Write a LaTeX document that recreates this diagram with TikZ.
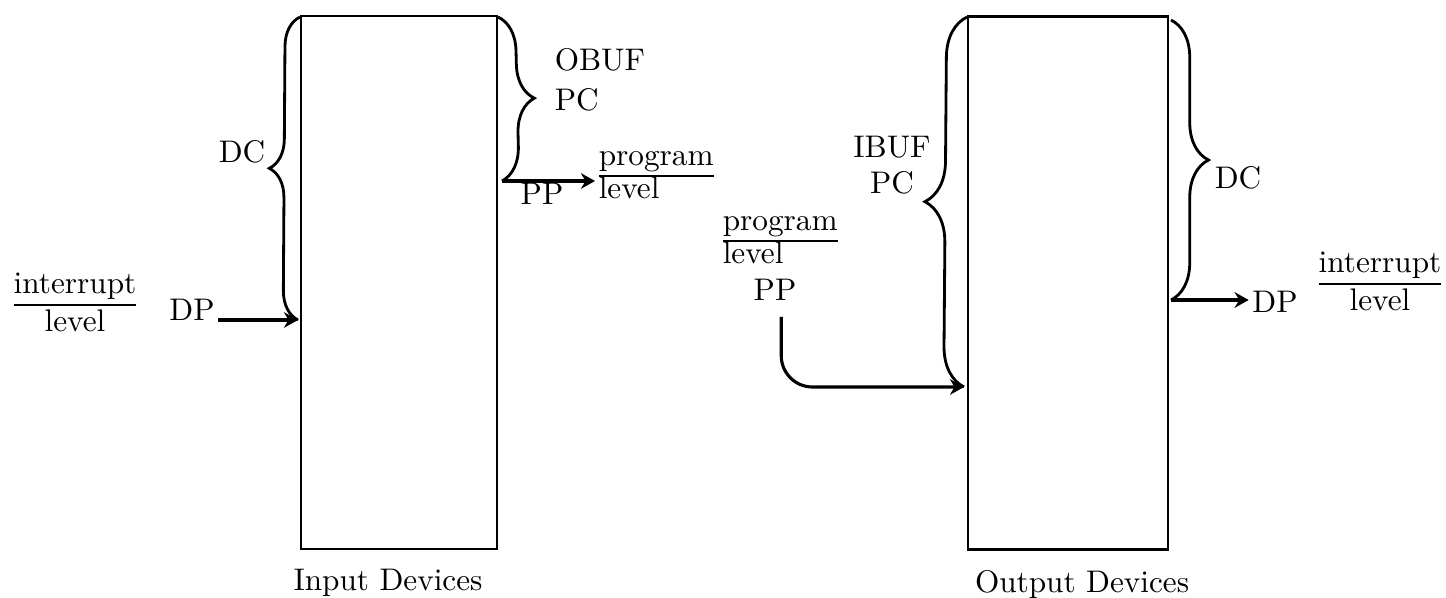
\documentclass[tikz,border=0pt]{standalone}
\usepackage{amsmath,amssymb}
\usepackage{xcolor}
\usepackage{tikz}
\usetikzlibrary{arrows.meta,positioning,decorations.pathreplacing}

\begin{document}
\begin{tikzpicture}[
  x=0.32pt, y=-0.32pt,
  device/.style={draw, line width=0.75pt, minimum width=62.7pt,
    minimum height=170.6pt, inner sep=0pt},
  lbl/.style={inner sep=1pt},
  frac/.style={inner sep=1pt},
  curly/.style={decorate, decoration={brace, amplitude=#1}, line width=0.9pt},
  curly/.default=10pt,
  arrow/.style={-{Stealth[length=4.5pt, width=5pt]}, line width=1pt},
]
\useasboundingbox (0,0) rectangle (1446,597);
\node[device] (inbox) at (399,282.5) {};
\node[device, minimum width=64pt] (outbox) at (1068,283) {};
\node[lbl, below=5pt of inbox, xshift=-3.5pt] (inname) {Input Devices};
\node[lbl, below=5pt of outbox, xshift=4.5pt] (outname) {Output Devices};
\coordinate (dcl-top) at (300,17);
\coordinate (dcl-bot) at (298,320);
\coordinate (obuf-top) at (498,17);
\coordinate (obuf-bot) at (502,181);
\coordinate (ibuf-top) at (967,17);
\coordinate (ibuf-bot) at (964,387);
\coordinate (dcr-top) at (1171,20);
\coordinate (dcr-bot) at (1171,300);
\draw[curly=9.5pt] (dcl-bot) -- (dcl-top);
\draw[curly=11pt] (obuf-top) -- (obuf-bot);
\draw[curly=13pt] (ibuf-bot) -- (ibuf-top);
\draw[curly=12pt] (dcr-top) -- (dcr-bot);
\node[lbl] (dcl) at (242,152) {DC};
\node[lbl] (dpl) at (192,310) {DP};
\node[frac] (intl) at (75,305) {\begin{tabular}{@{}c@{}}interrupt\\\hline level\end{tabular}};
\node[lbl, anchor=west] (obuf) at (551,60) {OBUF};
\node[lbl, anchor=west] (pc1) at (551,100) {PC};
\node[lbl] (pp1) at (542,194) {PP};
\node[frac, anchor=west] (prog1) at (595,176)
  {\renewcommand{\arraystretch}{0.85}\begin{tabular}{@{}l@{}}program\\\hline level\end{tabular}};
\node[frac, anchor=west] (prog2) at (719,241)
  {\renewcommand{\arraystretch}{0.85}\begin{tabular}{@{}l@{}}program\\\hline level\end{tabular}};
\node[lbl] (pp2) at (775,290) {PP};
\node[lbl] (ibuf) at (892,147) {IBUF};
\node[lbl] (pc2) at (892,183) {PC};
\node[lbl, anchor=west] (dcr) at (1211,178) {DC};
\node[lbl] (dpr) at (1275,302) {DP};
\node[frac] (intr) at (1380,284) {\begin{tabular}{@{}c@{}}interrupt\\\hline level\end{tabular}};
\draw[arrow] (dpl.east |- dcl-bot) -- (dcl-bot);
\draw[arrow] (obuf-bot) -- (prog1.west |- obuf-bot);
\draw[arrow, rounded corners=10pt] ([xshift=2pt, yshift=-4pt]pp2.south) |- (ibuf-bot);
\draw[arrow] (dcr-bot) -- (dpr.west |- dcr-bot);
\end{tikzpicture}
\end{document}
